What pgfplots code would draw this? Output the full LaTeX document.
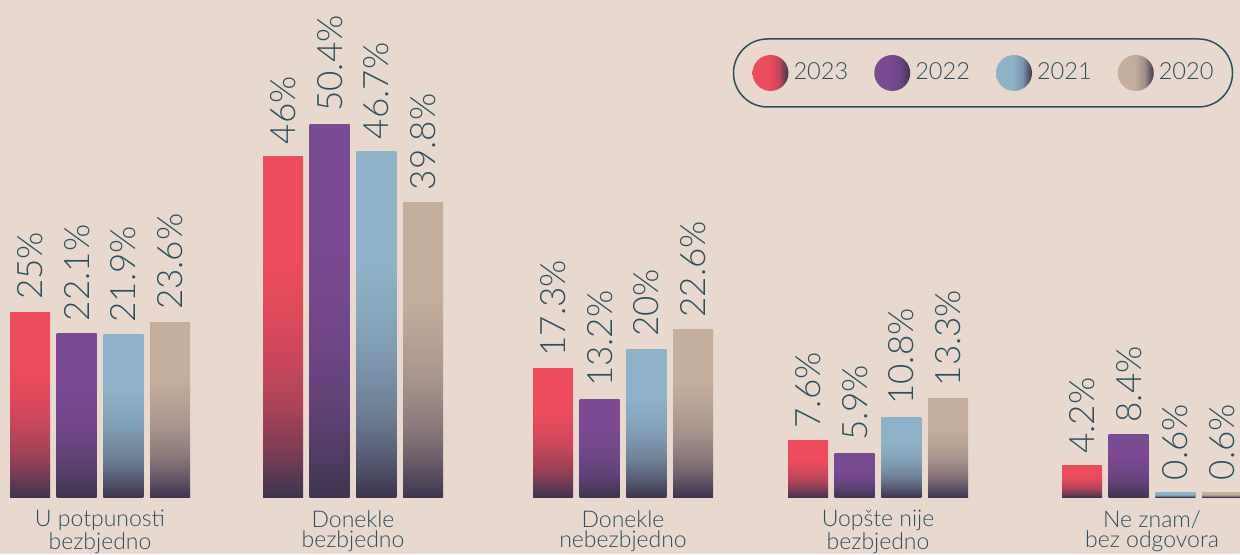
\documentclass[border=0pt]{standalone}
\usepackage{pgfplots}
\pgfplotsset{compat=1.18}
\usepackage{fontspec}
\setmainfont{Lato}[UprightFont=* Light]

\definecolor{bg}{HTML}{E9D8CD}
\definecolor{ink}{HTML}{2B4F5D}
\definecolor{c23}{HTML}{EC4C5C}
\definecolor{c22}{HTML}{7A4A92}
\definecolor{c21}{HTML}{8EB3C8}
\definecolor{c20}{HTML}{C4AD9B}
\definecolor{deep}{HTML}{3F3551}

% bar fill: plain colour in the upper part, fading to dark at the foot
% (the path is fitted to 25bp..75bp of the shading)
\newcommand\barshading[2]{%
  \pgfdeclareverticalshading{bar#1}{100bp}{color(0bp)=(deep); color(25bp)=(deep);
    color(32bp)=(#2!36!deep); color(37.5bp)=(#2!59!deep); color(45bp)=(#2!79!deep);
    color(52.5bp)=(#2!92!deep); color(59bp)=(#2); color(100bp)=(#2)}%
  \pgfdeclarehorizontalshading{dot#1}{100bp}{color(0bp)=(#2); color(48bp)=(#2);
    color(62bp)=(#2!75!deep); color(75bp)=(deep); color(100bp)=(deep)}%
}
\barshading{23}{c23}
\barshading{22}{c22}
\barshading{21}{c21}
\barshading{20}{c20}

% one year: shift of the bar inside the group, and its shading.
% Every bar is its own \addplot so that the shading fits that bar alone.
\pgfplotsset{
  yearbar/.style 2 args={
    bar shift=#1, draw=none, shading=bar#2,
    legend image code/.code={\shade[shading=dot#2] (9pt,0pt) circle (9pt);},
  },
}

\begin{document}
\begin{tikzpicture}
  \fill[bg] (0,-28.5pt) rectangle (620pt,248.5pt);
  \begin{axis}[
      scale only axis, width=620pt, height=248.5pt,
      xmin=0, xmax=1240, ymin=0, ymax=67.16,
      ybar, bar width=40,
      axis line style={draw=none}, tick style={draw=none}, major tick length=0pt,
      ytick=\empty,
      xtick={100,353,623,878,1152},
      xticklabels={{U potpunosti\\bezbjedno},{Donekle\\bezbjedno},{Donekle\\nebezbjedno},{Uopšte nije\\bezbjedno},{Ne znam/\\bez odgovora}},
      xticklabel style={align=center, font=\fontsize{11.5pt}{10pt}\selectfont, text=ink, inner sep=0pt, yshift=-6.5pt},
      /pgf/number format/assume math mode=true,
      nodes near coords={\pgfmathprintnumber{\pgfplotspointmeta}\%},
      every node near coord/.append style={rotate=90, anchor=west, text=ink,
        font=\fontsize{17.5pt}{17.5pt}\selectfont, inner ysep=0pt, inner xsep=6pt},
      legend columns=4, legend cell align=left,
      legend style={at={(axis cs:983,57.3)}, anchor=center,
        draw=ink, line width=0.75pt, rounded corners=17pt, fill=none,
        inner xsep=9.5pt, inner ysep=8pt,
        font=\fontsize{11.8pt}{11.8pt}\selectfont, text=ink,
        nodes={inner sep=0pt},
        /tikz/every odd column/.append style={column sep=2.5pt},
        /tikz/every even column/.append style={column sep=13pt}},
      clip=false,
    ]
    % U potpunosti bezbjedno (these four also make the legend)
    \addplot[yearbar={-70}{23}] coordinates {(100,25)};
    \addplot[yearbar={-23.3}{22}] coordinates {(100,22.1)};
    \addplot[yearbar={23.3}{21}] coordinates {(100,21.9)};
    \addplot[yearbar={70}{20}] coordinates {(100,23.6)};
    \legend{2023,2022,2021,2020}
    % Donekle bezbjedno
    \addplot[yearbar={-70}{23}, forget plot] coordinates {(353,46)};
    \addplot[yearbar={-23.3}{22}, forget plot] coordinates {(353,50.4)};
    \addplot[yearbar={23.3}{21}, forget plot] coordinates {(353,46.7)};
    \addplot[yearbar={70}{20}, forget plot] coordinates {(353,39.8)};
    % Donekle nebezbjedno
    \addplot[yearbar={-70}{23}, forget plot] coordinates {(623,17.3)};
    \addplot[yearbar={-23.3}{22}, forget plot] coordinates {(623,13.2)};
    \addplot[yearbar={23.3}{21}, forget plot] coordinates {(623,20)};
    \addplot[yearbar={70}{20}, forget plot] coordinates {(623,22.6)};
    % Uopšte nije bezbjedno
    \addplot[yearbar={-70}{23}, forget plot] coordinates {(878,7.6)};
    \addplot[yearbar={-23.3}{22}, forget plot] coordinates {(878,5.9)};
    \addplot[yearbar={23.3}{21}, forget plot] coordinates {(878,10.8)};
    \addplot[yearbar={70}{20}, forget plot] coordinates {(878,13.3)};
    % Ne znam / bez odgovora
    \addplot[yearbar={-70}{23}, forget plot] coordinates {(1152,4.2)};
    \addplot[yearbar={-23.3}{22}, forget plot] coordinates {(1152,8.4)};
    \addplot[yearbar={23.3}{21}, forget plot] coordinates {(1152,0.6)};
    \addplot[yearbar={70}{20}, forget plot] coordinates {(1152,0.6)};
  \end{axis}
  \pgfresetboundingbox
  \path[use as bounding box] (0,-28.5pt) rectangle (620pt,248.5pt);
\end{tikzpicture}
\end{document}
